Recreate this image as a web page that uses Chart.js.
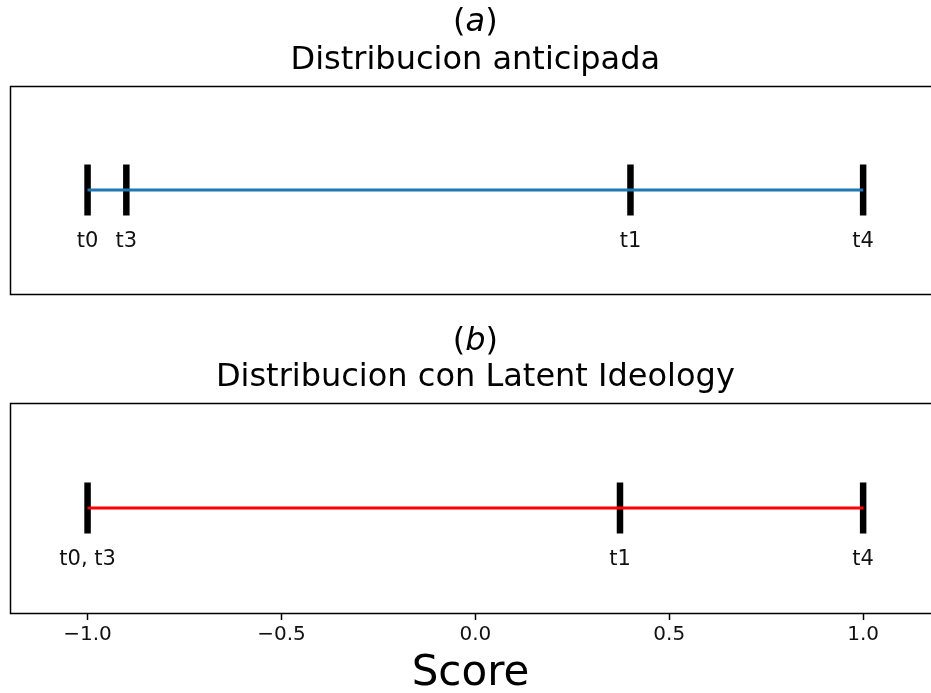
<!DOCTYPE html>
<html><head><meta charset="utf-8">
<script src="https://cdn.jsdelivr.net/npm/chart.js@4.4.0/dist/chart.umd.min.js"></script>
<style>
html,body{margin:0;padding:0;background:#fff;}
#wrap{position:relative;width:931px;height:693px;overflow:hidden;}
#c1{position:absolute;left:0;top:0;}
#c2{position:absolute;left:0;top:300px;}
</style></head><body>
<div id="wrap"><canvas id="c1" width="931" height="300"></canvas><canvas id="c2" width="931" height="399"></canvas></div>
<script>
// ---- data ----
const panelLetters = ['a', 'b'];
const panelTitles = ['Distribucion anticipada', 'Distribucion con Latent Ideology'];
const topLabels = ['t0', 't3', 't1', 't4'];
const topScores = [-1.0, -0.9, 0.4, 1.0];
const bottomLabels = ['t0, t3', 't1', 't4'];
const bottomScores = [-1.0, 0.373, 1.0];
const xTicks = [-1.0, -0.5, 0.0, 0.5, 1.0];
const xMin = -1.2, xMax = 1.175, xFullMax = 1.2;
const axisLabel = 'Score';

const FONT = "'DejaVu Sans', sans-serif";

const framePlugin = {
  id: 'frame',
  afterDraw(chart) {
    const a = chart.chartArea, ctx = chart.ctx;
    ctx.save();
    ctx.strokeStyle = '#000'; ctx.lineWidth = 1.5;
    ctx.beginPath();
    ctx.moveTo(chart.width + 5, a.top + 0.5);
    ctx.lineTo(a.left + 0.5, a.top + 0.5);
    ctx.lineTo(a.left + 0.5, a.bottom + 0.5);
    ctx.lineTo(chart.width + 5, a.bottom + 0.5);
    ctx.stroke();
    ctx.restore();
  }
};

const titlePlugin = {
  id: 'panelTitle',
  afterDraw(chart, args, opts) {
    const ctx = chart.ctx;
    const cx = chart.scales.x.getPixelForValue((xMin + xFullMax) / 2);
    ctx.save();
    ctx.fillStyle = '#000';
    ctx.textBaseline = 'middle';
    const nf = opts.size + 'px ' + FONT, itf = 'oblique ' + opts.size + 'px ' + FONT;
    ctx.font = nf; const wp = ctx.measureText('(').width, wq = ctx.measureText(')').width;
    ctx.font = itf; const wl = ctx.measureText(opts.letter).width;
    let x = cx - (wp + wl + wq) / 2;
    ctx.textAlign = 'left';
    ctx.font = nf; ctx.fillText('(', x, opts.y1); x += wp;
    ctx.font = itf; ctx.fillText(opts.letter, x, opts.y1); x += wl;
    ctx.font = nf; ctx.fillText(')', x, opts.y1);
    ctx.textAlign = 'center';
    ctx.font = nf; ctx.fillText(opts.text, cx, opts.y2);
    ctx.restore();
  }
};

const markLabelPlugin = {
  id: 'markLabels',
  afterDatasetsDraw(chart, args, opts) {
    const ctx = chart.ctx;
    const meta = chart.getDatasetMeta(1);
    ctx.save();
    ctx.fillStyle = '#111';
    ctx.font = opts.size + 'px ' + FONT;
    ctx.textAlign = 'center'; ctx.textBaseline = 'middle';
    meta.data.forEach((el, i) => ctx.fillText(opts.labels[i], el.x, el.y + opts.offset));
    ctx.restore();
  }
};

function makeChart(id, scores, labels, color, letter, title, showAxis, padTop, padBottom, titleY1, titleY2) {
  const xs = {
    type: 'linear', min: xMin, max: xMax, display: showAxis,
    afterBuildTicks: s => { s.ticks = xTicks.map(v => ({ value: v })); },
    afterFit: s => { if (showAxis) s.height = 86; },
    grid: { drawOnChartArea: false, drawTicks: true, tickLength: 7, color: '#000', tickWidth: 1.5 },
    border: { display: false },
    ticks: { color: '#111', font: { family: FONT, size: 20 }, padding: 3, maxRotation: 0, autoSkip: false,
      callback: v => v.toFixed(1).replace('-', '\u2212') },
    title: { display: showAxis, text: axisLabel, color: '#000', font: { family: FONT, size: 42 }, padding: { top: 0, bottom: 0 } }
  };
  return new Chart(document.getElementById(id), {
    type: 'scatter',
    data: {
      datasets: [
        { type: 'line', data: [{ x: Math.min(...scores), y: 0 }, { x: Math.max(...scores), y: 0 }],
          borderColor: color, borderWidth: 2.8, pointRadius: 0, showLine: true, fill: false },
        { data: scores.map(v => ({ x: v, y: 0 })), pointStyle: 'line', rotation: 90, pointRadius: 25.5,
          borderWidth: 6.5, borderColor: '#000', backgroundColor: '#000' }
      ]
    },
    options: {
      responsive: false, animation: false, devicePixelRatio: 1, events: [],
      layout: { autoPadding: false, padding: { left: 10, right: 0, top: padTop, bottom: padBottom } },
      scales: { x: xs, y: { type: 'linear', min: -1, max: 1, display: false } },
      plugins: {
        legend: { display: false }, tooltip: { enabled: false },
        panelTitle: { letter: letter, text: title, size: 32, y1: titleY1, y2: titleY2 },
        markLabels: { labels: labels, size: 21, offset: 52 }
      }
    },
    plugins: [framePlugin, titlePlugin, markLabelPlugin]
  });
}

makeChart('c1', topScores, topLabels, '#1f77b4', panelLetters[0], panelTitles[0], false, 86, 6, 23, 61);
makeChart('c2', bottomScores, bottomLabels, '#ff0000', panelLetters[1], panelTitles[1], true, 103, 0, 42, 78);
</script></body></html>
